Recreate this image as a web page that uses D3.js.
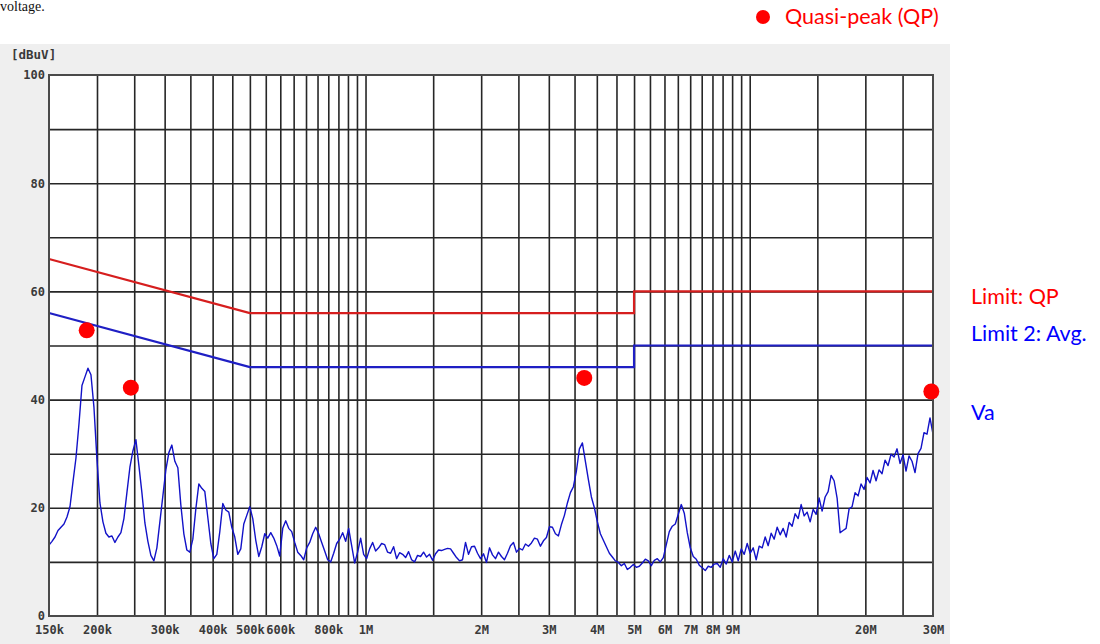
<!DOCTYPE html>
<html>
<head>
<meta charset="utf-8">
<script src="https://cdn.jsdelivr.net/npm/d3@7"></script>
<style>
  html, body { margin: 0; padding: 0; background: #ffffff; }
  svg { display: block; }
</style>
</head>
<body>
<svg id="chart" width="1100" height="644"></svg>
<script>
// Conducted emission scan, 150 kHz – 30 MHz, levels in dBµV

// Tick labels on the frequency axis (MHz)
const freqLabelMHz = [0.15, 0.2, 0.3, 0.4, 0.5, 0.6, 0.8, 1, 2, 3, 4, 5, 6, 7, 8, 9, 20, 30];
const freqLabelText = ["150k", "200k", "300k", "400k", "500k", "600k", "800k", "1M", "2M", "3M", "4M", "5M", "6M", "7M", "8M", "9M", "20M", "30M"];

// Vertical grid lines (MHz)
const freqGridMHz = [
  0.2, 0.25, 0.3, 0.35, 0.4, 0.45, 0.5, 0.55, 0.6, 0.65, 0.7, 0.75, 0.8, 0.85, 0.9, 0.95, 1,
  1.5, 2, 2.5, 3, 3.5, 4, 4.5, 5, 5.5, 6, 6.5, 7, 7.5, 8, 8.5, 9, 9.5, 10,
  15, 20, 25
];

// Level axis
const levelLabels = [0, 20, 40, 60, 80, 100];
const levelGrid = [10, 20, 30, 40, 50, 60, 70, 80, 90];

// Limit lines: [MHz, dBµV]
const limitQP = [[0.15, 66], [0.5, 56], [5, 56], [5, 60], [30, 60]];
const limitAvg = [[0.15, 56], [0.5, 46], [5, 46], [5, 50], [30, 50]];

// Quasi-peak measurements: [MHz, dBµV]
const qpPoints = [[0.188, 52.8], [0.245, 42.2], [3.71, 44.0], [29.7, 41.5]];

// Receiver sweep: 296 log-spaced points from 150 kHz to 30 MHz
const sweepStartMHz = 0.15;
const sweepStopMHz = 30;
const traceLevels = [
  13.1, 13.8, 14.6, 15.8, 16.4, 17.0, 18.3, 20.2, 24.8, 29.2,
  35.5, 42.6, 44.2, 45.8, 44.6, 38.6, 29.0, 20.9, 17.4, 15.3,
  14.6, 14.8, 13.6, 14.6, 15.4, 18.0, 22.8, 27.5, 30.5, 32.6,
  27.8, 22.8, 17.2, 13.8, 11.2, 10.2, 12.6, 17.4, 22.2, 27.0,
  30.2, 31.6, 28.6, 27.4, 20.5, 15.2, 12.2, 11.8, 14.2, 19.8,
  24.4, 23.6, 23.0, 18.2, 13.4, 10.6, 11.4, 15.6, 20.8, 19.6,
  19.2, 16.4, 14.6, 11.4, 12.4, 17.0, 18.6, 20.2, 18.0, 14.0,
  11.0, 12.8, 15.2, 14.4, 15.4, 14.4, 13.0, 11.1, 16.2, 17.6,
  16.2, 15.6, 13.6, 11.8, 11.2, 10.4, 12.6, 13.6, 15.2, 16.4,
  15.2, 13.6, 12.0, 10.4, 10.0, 11.6, 13.4, 14.2, 15.4, 13.8,
  16.2, 13.0, 9.8, 11.8, 14.4, 11.4, 10.6, 12.4, 13.6, 12.0,
  12.6, 13.4, 13.2, 11.8, 11.6, 12.8, 10.6, 11.7, 11.4, 10.8,
  11.9, 10.4, 10.0, 11.2, 11.0, 11.8, 10.9, 11.4, 10.3, 11.5,
  12.2, 12.1, 12.3, 12.5, 12.4, 11.6, 10.8, 10.2, 10.4, 13.6,
  11.4, 12.8, 12.9, 11.6, 10.6, 11.5, 9.9, 12.6, 11.3, 10.6,
  11.8, 11.0, 10.4, 11.6, 13.0, 13.6, 11.8, 12.5, 12.2, 13.3,
  12.9, 13.5, 14.4, 14.2, 12.9, 13.9, 14.5, 16.5, 16.4, 15.2,
  14.8, 16.9, 18.6, 20.9, 22.8, 23.9, 26.8, 30.9, 32.0, 28.6,
  25.2, 22.0, 20.0, 17.4, 15.2, 14.0, 12.8, 11.6, 10.9, 10.2,
  9.9, 9.3, 9.7, 8.6, 9.0, 9.5, 9.0, 9.2, 9.8, 10.5,
  10.2, 9.3, 10.3, 10.6, 10.0, 10.8, 13.2, 15.6, 16.6, 17.0,
  18.8, 20.6, 19.0, 15.4, 12.6, 11.0, 10.5, 9.4, 8.9, 8.4,
  9.2, 9.0, 9.6, 9.7, 9.0, 10.6, 9.6, 11.2, 10.0, 12.0,
  10.2, 12.4, 11.4, 13.4, 11.6, 12.6, 10.4, 12.9, 12.6, 14.6,
  13.0, 15.3, 14.2, 16.4, 15.0, 16.2, 14.6, 17.3, 16.6, 18.9,
  18.0, 20.6, 18.5, 19.2, 17.4, 19.7, 18.8, 21.8, 19.4, 22.0,
  23.0, 26.0, 25.0, 21.8, 15.4, 15.8, 16.2, 19.8, 20.2, 22.8,
  22.2, 24.4, 23.4, 25.6, 24.6, 26.9, 25.0, 27.0, 26.3, 28.8,
  27.8, 29.9, 29.4, 30.9, 28.2, 29.8, 26.8, 29.6, 28.6, 26.5,
  30.0, 31.0, 33.9, 33.6, 36.6, 33.6
];
const sweepFreqMHz = traceLevels.map((_, i) =>
  sweepStartMHz * Math.pow(sweepStopMHz / sweepStartMHz, i / (traceLevels.length - 1)));

// Layout
const plot = { left: 49, right: 933, top: 75, bottom: 616 };
const svg = d3.select("#chart");

const x = d3.scaleLog().domain([sweepStartMHz, sweepStopMHz]).range([plot.left, plot.right]);
const y = d3.scaleLinear().domain([0, 100]).range([plot.bottom, plot.top]);

const tickFont = "'DejaVu Sans Mono', monospace";
const noteFont = "Lato, 'Open Sans', sans-serif";

// caption fragment above the panel
svg.append("text")
  .attr("x", 0).attr("y", 11)
  .attr("font-family", "'Liberation Serif', serif")
  .attr("font-size", 14)
  .attr("fill", "#111")
  .text("voltage.");

// grey instrument panel
svg.append("rect")
  .attr("x", 0).attr("y", 44).attr("width", 950).attr("height", 600)
  .attr("fill", "#efefef");

// white plotting area
svg.append("rect")
  .attr("x", plot.left).attr("y", plot.top)
  .attr("width", plot.right - plot.left).attr("height", plot.bottom - plot.top)
  .attr("fill", "#ffffff");

// vertical grid
svg.append("g")
  .attr("transform", `translate(0,${plot.bottom})`)
  .call(d3.axisBottom(x).tickValues(freqGridMHz).tickFormat("").tickSize(-(plot.bottom - plot.top)))
  .call(g => g.select(".domain").remove())
  .call(g => g.selectAll(".tick line").attr("stroke", "#262626").attr("stroke-width", 1.6));

// horizontal grid
svg.append("g")
  .attr("transform", `translate(${plot.left},0)`)
  .call(d3.axisLeft(y).tickValues(levelGrid).tickFormat("").tickSize(-(plot.right - plot.left)))
  .call(g => g.select(".domain").remove())
  .call(g => g.selectAll(".tick line").attr("stroke", "#262626").attr("stroke-width", 1.6));

// frequency labels
const freqLabelMap = new Map(freqLabelMHz.map((f, i) => [f, freqLabelText[i]]));
svg.append("g")
  .attr("transform", `translate(0,${plot.bottom})`)
  .call(d3.axisBottom(x).tickValues(freqLabelMHz).tickFormat(d => freqLabelMap.get(d)).tickSize(0).tickPadding(9))
  .call(g => g.select(".domain").remove())
  .call(g => g.selectAll("text")
    .attr("font-family", tickFont).attr("font-size", 12)
    .attr("font-weight", "bold").attr("fill", "#3a3a3a"));

// level labels
svg.append("g")
  .attr("transform", `translate(${plot.left},0)`)
  .call(d3.axisLeft(y).tickValues(levelLabels).tickSize(0).tickPadding(4))
  .call(g => g.select(".domain").remove())
  .call(g => g.selectAll("text")
    .attr("font-family", tickFont).attr("font-size", 12)
    .attr("font-weight", "bold").attr("fill", "#3a3a3a"));

svg.append("text")
  .attr("x", 11).attr("y", 59)
  .attr("font-family", tickFont).attr("font-size", 12.5).attr("font-weight", "bold")
  .attr("fill", "#3a3a3a")
  .text("[dBuV]");

// measured trace
const traceLine = d3.line()
  .x((d, i) => x(sweepFreqMHz[i]))
  .y(d => y(d));
svg.append("path")
  .datum(traceLevels)
  .attr("d", traceLine)
  .attr("fill", "none")
  .attr("stroke", "#1212c8")
  .attr("stroke-width", 1.4)
  .attr("stroke-linejoin", "round");

// limit lines
const limitLine = d3.line().x(d => x(d[0])).y(d => y(d[1]));
svg.append("path")
  .datum(limitQP)
  .attr("d", limitLine)
  .attr("fill", "none").attr("stroke", "#d61e1e").attr("stroke-width", 2.2);
svg.append("path")
  .datum(limitAvg)
  .attr("d", limitLine)
  .attr("fill", "none").attr("stroke", "#1f1fc4").attr("stroke-width", 2.2);

// plot frame
svg.append("rect")
  .attr("x", plot.left).attr("y", plot.top)
  .attr("width", plot.right - plot.left).attr("height", plot.bottom - plot.top)
  .attr("fill", "none").attr("stroke", "#4a4a4a").attr("stroke-width", 2);

// quasi-peak readings
svg.append("g")
  .selectAll("circle")
  .data(qpPoints)
  .join("circle")
  .attr("cx", d => x(d[0]))
  .attr("cy", d => y(d[1]))
  .attr("r", 8)
  .attr("fill", "#ff0000");

// legend
svg.append("circle").attr("cx", 763).attr("cy", 17).attr("r", 7).attr("fill", "#ff0000");
svg.append("text")
  .attr("x", 785).attr("y", 24)
  .attr("font-family", noteFont).attr("font-size", 21.5)
  .attr("fill", "#ff0000")
  .text("Quasi-peak (QP)");

const sideNotes = [
  { text: "Limit: QP", y: 304, color: "#ff0000" },
  { text: "Limit 2: Avg.", y: 341, color: "#0000ff" },
  { text: "Va", y: 420, color: "#0000ff" }
];
svg.append("g")
  .selectAll("text")
  .data(sideNotes)
  .join("text")
  .attr("x", 971)
  .attr("y", d => d.y)
  .attr("font-family", noteFont).attr("font-size", 21.5)
  .attr("fill", d => d.color)
  .text(d => d.text);
</script>
</body>
</html>
